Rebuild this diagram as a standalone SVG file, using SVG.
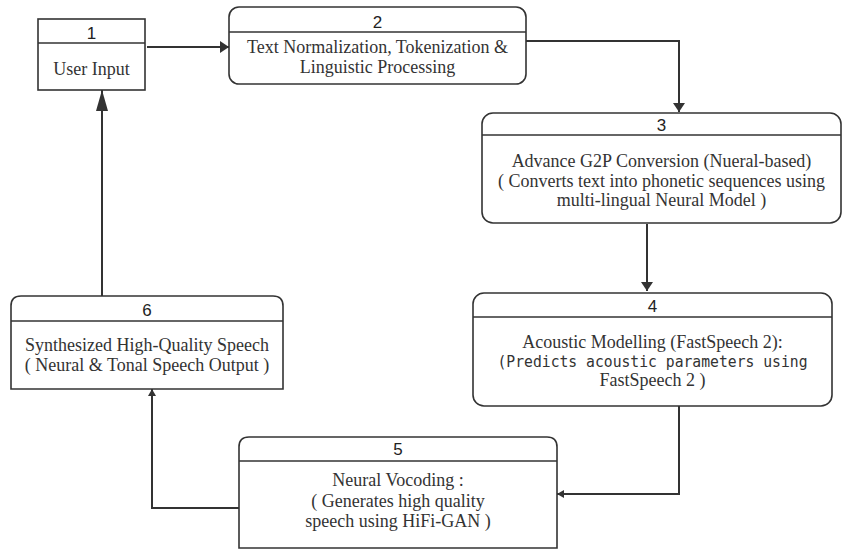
<svg xmlns="http://www.w3.org/2000/svg" width="843" height="551" viewBox="0 0 843 551">
  <style>
    .box { fill: #ffffff; stroke: #333333; stroke-width: 1.6; }
    .div { stroke: #333333; stroke-width: 1.6; fill: none; }
    .num { font-family: "Liberation Sans", Arial, sans-serif; font-size: 17px; fill: #222222; text-anchor: middle; }
    .txt { font-family: "Liberation Serif", "Times New Roman", serif; font-size: 18px; fill: #333333; text-anchor: middle; }
    .mono { font-family: "DejaVu Sans Mono", "Liberation Mono", monospace; font-size: 16px; fill: #333333; text-anchor: middle; }
    .wire { fill: none; stroke: #333333; stroke-width: 2; }
  </style>
  <defs>
    <marker id="arrowMid" markerUnits="userSpaceOnUse" markerWidth="12" markerHeight="14" refX="9" refY="6" orient="auto">
      <path d="M0,0 L9,6 L0,12 Z" fill="#333333"/>
    </marker>
    <marker id="arrowSmall" markerUnits="userSpaceOnUse" markerWidth="9" markerHeight="10" refX="7" refY="4" orient="auto">
      <path d="M0,0 L7,4 L0,8 Z" fill="#333333"/>
    </marker>
    <marker id="arrowLong" markerUnits="userSpaceOnUse" markerWidth="22" markerHeight="14" refX="21" refY="6" orient="auto">
      <path d="M0,0 L21,6 L0,12 Z" fill="#333333"/>
    </marker>
  </defs>

  <!-- connectors -->
  <g id="connectors">
    <path class="wire" d="M147,47 L229,47" marker-end="url(#arrowMid)"/>
    <path class="wire" d="M526,41 L679,41 L679,112" marker-end="url(#arrowMid)"/>
    <path class="wire" d="M647,224 L647,291" marker-end="url(#arrowMid)"/>
    <path class="wire" d="M679,406 L679,494 L557,494" marker-end="url(#arrowSmall)"/>
    <path class="wire" d="M239,508 L152,508 L152,389" marker-end="url(#arrowSmall)"/>
    <path class="wire" d="M102,296 L102,90" marker-end="url(#arrowLong)"/>
  </g>

  <!-- 1: user input -->
  <g id="node1">
    <rect class="box" x="38" y="19" width="107" height="71"/>
    <line class="div" x1="38" y1="43" x2="145" y2="43"/>
    <text class="num" x="91.5" y="39">1</text>
    <text class="txt" x="91.5" y="75">User Input</text>
  </g>

  <!-- 2: text normalization -->
  <g id="node2">
    <rect class="box" x="229" y="7" width="297" height="77" rx="10"/>
    <line class="div" x1="229" y1="32" x2="526" y2="32"/>
    <text class="num" x="377.5" y="28">2</text>
    <text class="txt" x="377.5" y="53">Text Normalization, Tokenization &amp;</text>
    <text class="txt" x="377.5" y="73">Linguistic Processing</text>
  </g>

  <!-- 3: G2P conversion -->
  <g id="node3">
    <rect class="box" x="482" y="113" width="359" height="110" rx="11"/>
    <line class="div" x1="482" y1="135" x2="841" y2="135"/>
    <text class="num" x="661.5" y="131">3</text>
    <text class="txt" x="661.5" y="167">Advance G2P Conversion (Nueral-based)</text>
    <text class="txt" x="661.5" y="187">( Converts text into phonetic sequences using</text>
    <text class="txt" x="661.5" y="206">multi-lingual Neural Model )</text>
  </g>

  <!-- 4: acoustic modelling -->
  <g id="node4">
    <rect class="box" x="473" y="293" width="359" height="113" rx="11"/>
    <line class="div" x1="473" y1="317" x2="832" y2="317"/>
    <text class="num" x="652.5" y="312">4</text>
    <text class="txt" x="652.5" y="348">Acoustic Modelling (FastSpeech 2):</text>
    <text class="mono" x="652.5" y="367" textLength="310" lengthAdjust="spacingAndGlyphs">(Predicts acoustic parameters using</text>
    <text class="txt" x="652.5" y="386">FastSpeech 2 )</text>
  </g>

  <!-- 5: neural vocoding -->
  <g id="node5">
    <path class="box" d="M239,548 L239,447 Q239,437 249,437 L547,437 Q557,437 557,447 L557,548 Z"/>
    <line class="div" x1="239" y1="461" x2="557" y2="461"/>
    <text class="num" x="398" y="455">5</text>
    <text class="txt" x="398" y="486">Neural Vocoding :</text>
    <text class="txt" x="398" y="507">( Generates high quality</text>
    <text class="txt" x="398" y="527">speech using HiFi-GAN )</text>
  </g>

  <!-- 6: synthesized speech -->
  <g id="node6">
    <path class="box" d="M11,389 L11,306 Q11,296 21,296 L273,296 Q283,296 283,306 L283,389 Z"/>
    <line class="div" x1="11" y1="321" x2="283" y2="321"/>
    <text class="num" x="147" y="316">6</text>
    <text class="txt" x="147" y="351">Synthesized High-Quality Speech</text>
    <text class="txt" x="147" y="371">( Neural &amp; Tonal Speech Output )</text>
  </g>
</svg>
